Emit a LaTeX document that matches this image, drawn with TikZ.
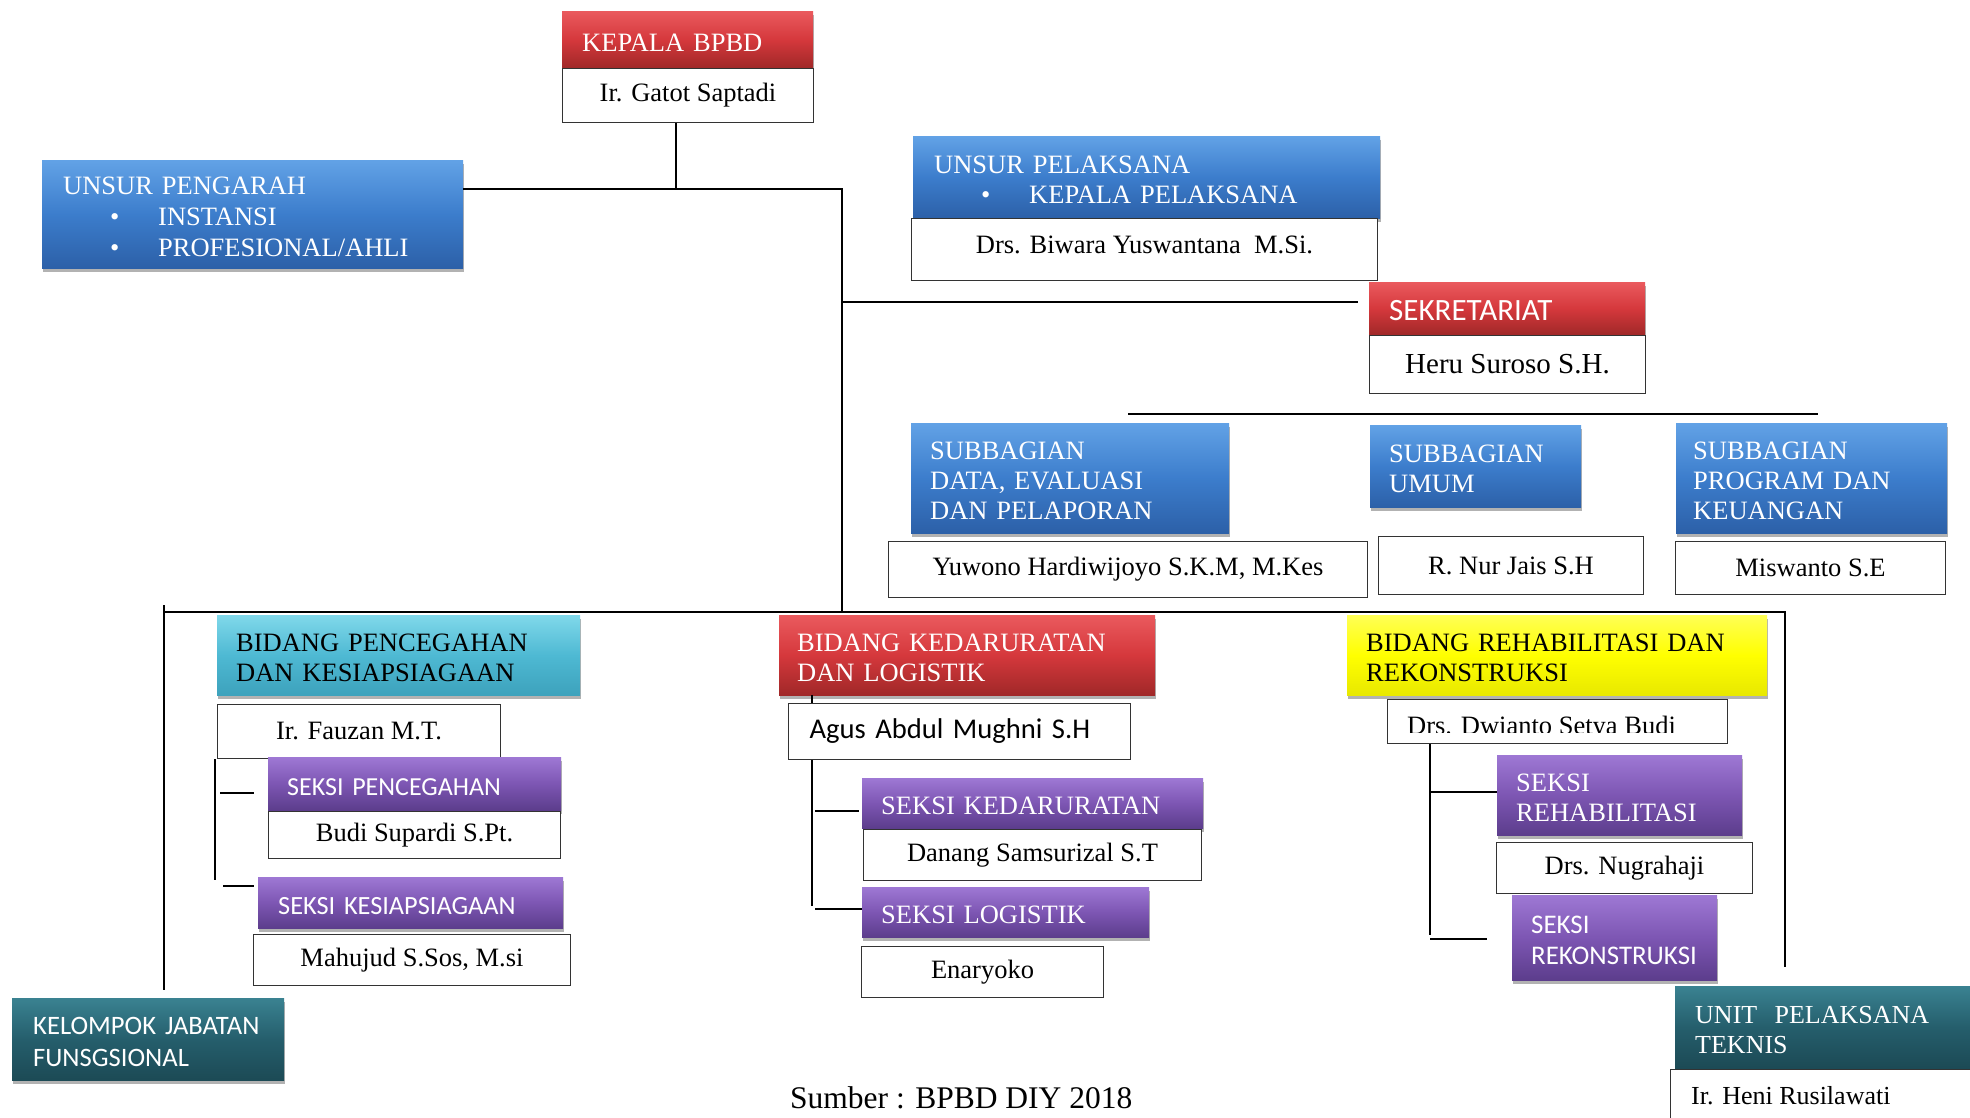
\documentclass[tikz,border=0pt]{standalone}
\usepackage{fontspec}
\setmainfont{Liberation Serif}
\newfontfamily\carl{Carlito}
\usetikzlibrary{shadows}
\definecolor{bluT}{HTML}{62A2E6}
\definecolor{bluM}{HTML}{3C7DCC}
\definecolor{bluB}{HTML}{2C60A8}
\definecolor{redT}{HTML}{EA5A5E}
\definecolor{redM}{HTML}{D5383C}
\definecolor{redB}{HTML}{A02828}
\definecolor{cyaT}{HTML}{80D8EA}
\definecolor{cyaM}{HTML}{4EB9D3}
\definecolor{cyaB}{HTML}{3DA2BC}
\definecolor{yelT}{HTML}{FFFF55}
\definecolor{yelM}{HTML}{FFFF00}
\definecolor{yelB}{HTML}{E8E800}
\definecolor{purT}{HTML}{9E78D4}
\definecolor{purM}{HTML}{7D56B3}
\definecolor{purB}{HTML}{5C3D8C}
\definecolor{tealT}{HTML}{3A8291}
\definecolor{tealM}{HTML}{255E6C}
\definecolor{tealB}{HTML}{1C4A55}
\newcommand\fT{\fontsize{26.5}{30}\selectfont}
\newcommand\fTb{\fontsize{26.5}{31}\selectfont}
\newcommand\bul[1]{\makebox[95pt][l]{\hspace{47pt}\textbullet}#1}
\tikzset{
  hdr/.style={anchor=north west, inner ysep=0pt, align=left,
    execute at begin node={\rule{0pt}{23.5pt}},
    drop shadow={shadow xshift=1pt, shadow yshift=-4pt, opacity=0.3, fill=black}},
  cblue/.style={hdr, top color=bluT, bottom color=bluB, middle color=bluM, text=white},
  cred/.style={hdr, top color=redT, bottom color=redB, middle color=redM, text=white},
  ccya/.style={hdr, top color=cyaT, bottom color=cyaB, middle color=cyaM, text=black},
  cyel/.style={hdr, top color=yelT, bottom color=yelB, middle color=yelM, text=black},
  cpur/.style={hdr, top color=purT, bottom color=purB, middle color=purM, text=white},
  cteal/.style={hdr, top color=tealT, bottom color=tealB, middle color=tealM, text=white},
  nbox/.style={draw=black!80, line width=1pt, fill=white, anchor=north west,
    inner sep=0pt, align=center, font=\fT},
  conn/.style={line width=1.6pt, black},
}
\begin{document}
\begin{tikzpicture}[x=1pt,y=-1pt]
\clip (0,0) rectangle (1970,1118);
\fill[white] (0,0) rectangle (1970,1118);

% top
\node[cred, minimum width=251pt, minimum height=57pt, text width=211pt, inner xsep=20pt, font=\fT] (kepala) at (562,11) {KEPALA BPBD};
\node[nbox, minimum width=251pt, minimum height=54pt] (gatot) at (562,68) {Ir. Gatot Saptadi};

\node[cblue, minimum width=421pt, minimum height=108pt, text width=379pt, inner xsep=21pt, font=\fTb] (pengarah) at (42,160)
  {UNSUR PENGARAH\\ \bul{INSTANSI}\\ \bul{PROFESIONAL/AHLI}};

\node[cblue, minimum width=467pt, minimum height=82pt, text width=425pt, inner xsep=21pt, font=\fT] (pelaksana) at (913,136)
  {UNSUR PELAKSANA\\ \bul{KEPALA PELAKSANA}};
\node[nbox, minimum width=466pt, minimum height=62pt] (biwara) at (911,218) {\raisebox{9pt}{Drs. Biwara Yuswantana\ \ M.Si.}};

\node[cred, minimum width=276pt, minimum height=53pt, text width=236pt, inner xsep=20pt, font={\carl\fontsize{31}{35}\selectfont}] (sekre) at (1369,282) {SEKRETARIAT};
\node[nbox, minimum width=276pt, minimum height=58pt, font={\fontsize{29}{33}\selectfont}] (heru) at (1369,335) {Heru Suroso S.H.};

\node[cblue, minimum width=318pt, minimum height=110pt, text width=280pt, inner xsep=19pt, font=\fT] (subdata) at (911,423)
  {SUBBAGIAN\\ DATA, EVALUASI\\ DAN PELAPORAN};
\node[nbox, minimum width=479pt, minimum height=56pt] (yuwono) at (888,541) {Yuwono Hardiwijoyo S.K.M, M.Kes};

\node[cblue, minimum width=211pt, minimum height=82pt, text width=173pt, inner xsep=19pt, font=\fT] (subumum) at (1370,425)
  {SUBBAGIAN\\ UMUM};
\node[nbox, minimum width=265pt, minimum height=58pt] (nurjais) at (1378,536) {R. Nur Jais S.H};

\node[cblue, minimum width=271pt, minimum height=110pt, text width=237pt, inner xsep=17pt, font=\fT] (subprog) at (1676,423)
  {SUBBAGIAN\\ PROGRAM DAN\\ KEUANGAN};
\node[nbox, minimum width=270pt, minimum height=53pt] (miswanto) at (1675,541) {Miswanto S.E};

% bidang pencegahan
\node[ccya, minimum width=363pt, minimum height=80pt, text width=325pt, inner xsep=19pt, font=\fT] (bidang1) at (217,615)
  {BIDANG PENCEGAHAN\\ DAN KESIAPSIAGAAN};
\node[nbox, minimum width=283pt, minimum height=54pt] (fauzan) at (217,704) {Ir. Fauzan M.T.};
\node[cpur, minimum width=293pt, minimum height=53pt, text width=255pt, inner xsep=19pt, font={\carl\fontsize{26}{30}\selectfont}] (seksiP) at (268,757) {SEKSI PENCEGAHAN};
\node[nbox, minimum width=292pt, minimum height=47pt] (budi) at (268,811) {Budi Supardi S.Pt.};
\node[cpur, minimum width=305pt, minimum height=51pt, text width=265pt, inner xsep=20pt, font={\carl\fontsize{26.3}{30}\selectfont}] (seksiK) at (258,877) {SEKSI KESIAPSIAGAAN};
\node[nbox, minimum width=317pt, minimum height=51pt] (mahujud) at (253,934) {Mahujud S.Sos, M.si};
\node[cteal, minimum width=272pt, minimum height=82pt, text width=230pt, inner xsep=21pt, font={\carl\fontsize{26.6}{32}\selectfont}] (kelompok) at (12,998)
  {KELOMPOK JABATAN\\ FUNSGSIONAL};

% bidang kedaruratan
\node[cred, minimum width=376pt, minimum height=80pt, text width=340pt, inner xsep=18pt, font=\fT] (bidang2) at (779,615)
  {BIDANG KEDARURATAN\\ DAN LOGISTIK};
\node[nbox, minimum width=342pt, minimum height=56pt, align=left, text width=300pt, inner xsep=21pt, font={\carl\fontsize{28.6}{33}\selectfont}] (agus) at (788,703) {Agus Abdul Mughni S.H};
\node[cpur, minimum width=341pt, minimum height=50pt, text width=303pt, inner xsep=19pt, font=\fT] (seksiD) at (862,778) {SEKSI KEDARURATAN};
\node[nbox, minimum width=338pt, minimum height=51pt] (danang) at (863,829) {Danang Samsurizal S.T};
\node[cpur, minimum width=287pt, minimum height=50pt, text width=249pt, inner xsep=19pt, font=\fT] (seksiL) at (862,887) {SEKSI LOGISTIK};
\node[nbox, minimum width=242pt, minimum height=51pt] (enaryoko) at (861,946) {Enaryoko};

% bidang rehabilitasi
\node[cyel, minimum width=420pt, minimum height=80pt, text width=382pt, inner xsep=19pt, font=\fT] (bidang3) at (1347,615)
  {BIDANG REHABILITASI DAN\\ REKONSTRUKSI};
\node[nbox, minimum width=340pt, minimum height=44pt] (dwianto) at (1387,699) {};
\begin{scope}
  \clip (1388,700) rectangle (1726,732.5);
  \node[anchor=base west, inner sep=0pt, font=\fT] (dwiantoT) at (1407,734) {Drs. Dwianto Setya Budi};
\end{scope}
\node[cpur, minimum width=245pt, minimum height=80pt, text width=207pt, inner xsep=19pt, font=\fT] (seksiR) at (1497,755)
  {SEKSI\\ REHABILITASI};
\node[nbox, minimum width=256pt, minimum height=51pt] (nugrahaji) at (1496,842) {Drs. Nugrahaji};
\node[cpur, minimum width=205pt, minimum height=85pt, text width=167pt, inner xsep=19pt, font={\carl\fontsize{26.9}{31}\selectfont}] (seksiRk) at (1512,895)
  {SEKSI\\ REKONSTRUKSI};

\node[cteal, minimum width=310pt, minimum height=82pt, text width=270pt, inner xsep=20pt, font={\fontsize{26}{30}\selectfont}] (unit) at (1675,986)
  {UNIT\ \ PELAKSANA\\ TEKNIS};
\node[nbox, minimum width=320pt, minimum height=70pt] (heni) at (1670,1069) {};
\node[anchor=west, inner sep=0pt, font={\fontsize{26}{30}\selectfont}] (heniT) at (1691,1096) {Ir. Heni Rusilawati};

\node[anchor=base west, inner sep=0pt, font={\fontsize{31.5}{35}\selectfont}] (sumber) at (790,1108) {Sumber : BPBD DIY 2018};

% connectors
\coordinate (j1) at (676,189);
\coordinate (t1) at (842,189);
\coordinate (t2) at (842,612);
\draw[conn] (gatot.south -| j1) -- (j1);
\draw[conn] (j1 -| pengarah.east) -- (t1) -- (t2);
\coordinate (s1) at (842,302);
\draw[conn] (s1) -- ([xshift=-11pt]s1 -| sekre.west);
\coordinate (h1) at (1128,414);
\coordinate (h2) at (1818,414);
\draw[conn] (h1) -- (h2);
\coordinate (b1) at (164,612);
\coordinate (b2) at (1785,612);
\coordinate (b3) at (1785,967);
\coordinate (bl1) at (164,605);
\coordinate (bl2) at (164,990);
\draw[conn] (b1) -- (b2) -- (b3);
\draw[conn] (bl1) -- (bl2);
% pencegahan group
\coordinate (p1) at (215,880);
\draw[conn] (fauzan.south west -| p1) -- (p1);
\coordinate (p2) at (220,793);
\draw[conn] (p2) -- ([xshift=-14pt]p2 -| seksiP.west);
\coordinate (p3) at (223,886);
\draw[conn] (p3) -- ([xshift=-4pt]p3 -| seksiK.west);
% kedaruratan group
\coordinate (k0) at (812,703);
\draw[conn] (bidang2.south -| k0) -- (k0);
\coordinate (k1) at (812,906);
\draw[conn] (agus.south -| k1) -- (k1);
\coordinate (k2) at (815,811);
\draw[conn] (k2) -- ([xshift=-3pt]k2 -| seksiD.west);
\coordinate (k3) at (815,909);
\draw[conn] (k3) -- (k3 -| seksiL.west);
% rehabilitasi group
\coordinate (r1) at (1430,935);
\draw[conn] (dwianto.south -| r1) -- (r1);
\coordinate (r2) at (1430,792);
\draw[conn] (r2) -- (r2 -| seksiR.west);
\coordinate (r3) at (1430,939);
\draw[conn] (r3) -- ([xshift=-25pt]r3 -| seksiRk.west);
\end{tikzpicture}
\end{document}
